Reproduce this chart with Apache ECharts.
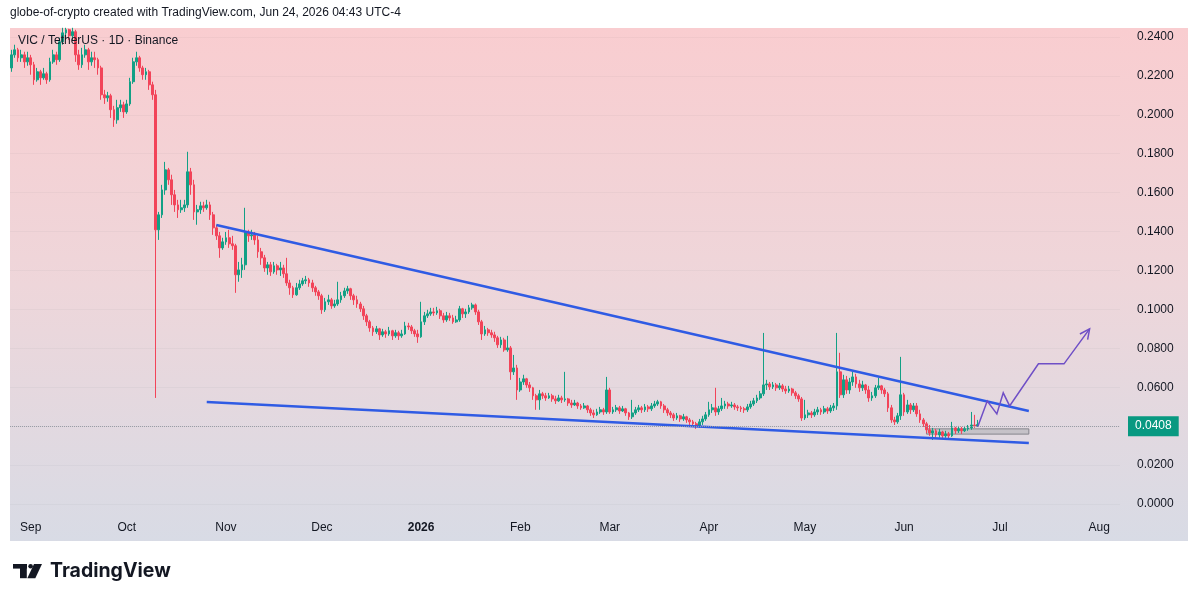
<!DOCTYPE html>
<html><head><meta charset="utf-8">
<script src="https://cdn.jsdelivr.net/npm/echarts@6/dist/echarts.min.js"></script>
<style>
html,body{margin:0;padding:0;background:#fff;width:1200px;height:602px;overflow:hidden}
#panel{position:absolute;left:10px;top:28px;width:1178px;height:513px;background:linear-gradient(180deg,#f9cdd0 0%,#eed6da 50%,#d8dbe5 100%)}
#chart{position:absolute;left:0;top:0;width:1200px;height:602px}
</style></head><body>
<div id="panel"></div><div id="chart"></div>
<script>
// ---- data (VIC / TetherUS daily, from 2025-08-26) ----
const firstOpen = 0.2241;
const closes = [
0.2308,0.2334,0.2293,0.2308,0.2272,0.2293,0.2257,0.2180,0.2221,0.2190,
0.2211,0.2180,0.2272,0.2308,0.2283,0.2375,0.2421,0.2437,0.2406,0.2427,
0.2308,0.2257,0.2308,0.2334,0.2272,0.2293,0.2283,0.2241,0.2103,0.2087,
0.2098,0.2026,0.1974,0.2036,0.2051,0.2015,0.2056,0.2170,0.2272,0.2293,
0.2241,0.2206,0.2221,0.2154,0.2103,0.1409,0.1486,0.1614,0.1717,0.1666,
0.1589,0.1537,0.1512,0.1522,0.1537,0.1707,0.1640,0.1501,0.1512,0.1532,
0.1522,0.1537,0.1486,0.1419,0.1378,0.1316,0.1347,0.1368,0.1337,0.1327,
0.1178,0.1203,0.1229,0.1393,0.1378,0.1383,0.1357,0.1296,0.1265,0.1213,
0.1229,0.1193,0.1224,0.1203,0.1213,0.1183,0.1136,0.1111,0.1075,0.1111,
0.1131,0.1147,0.1152,0.1136,0.1111,0.1090,0.1070,0.0998,0.1039,0.1049,
0.1018,0.1028,0.1049,0.1070,0.1095,0.1106,0.1070,0.1049,0.1028,0.1003,
0.0967,0.0936,0.0905,0.0885,0.0900,0.0869,0.0885,0.0874,0.0890,0.0864,
0.0880,0.0864,0.0874,0.0915,0.0910,0.0890,0.0874,0.0859,0.0936,0.0967,
0.0977,0.0987,0.0982,0.0993,0.0967,0.0946,0.0967,0.0956,0.0936,0.0946,
0.1003,0.0977,0.0987,0.1008,0.1023,0.0987,0.0936,0.0874,0.0895,0.0880,
0.0869,0.0854,0.0818,0.0843,0.0792,0.0802,0.0679,0.0699,0.0586,0.0627,
0.0643,0.0612,0.0597,0.0556,0.0535,0.0566,0.0556,0.0545,0.0556,0.0540,
0.0530,0.0545,0.0535,0.0540,0.0519,0.0509,0.0519,0.0504,0.0494,0.0504,
0.0484,0.0468,0.0458,0.0473,0.0484,0.0473,0.0586,0.0473,0.0484,0.0494,
0.0478,0.0489,0.0468,0.0448,0.0468,0.0484,0.0494,0.0484,0.0499,0.0489,
0.0504,0.0514,0.0525,0.0504,0.0484,0.0468,0.0458,0.0442,0.0453,0.0437,
0.0448,0.0432,0.0422,0.0412,0.0401,0.0422,0.0437,0.0458,0.0484,0.0494,
0.0473,0.0489,0.0504,0.0514,0.0504,0.0509,0.0499,0.0494,0.0489,0.0484,
0.0499,0.0514,0.0530,0.0545,0.0566,0.0612,0.0617,0.0602,0.0612,0.0597,
0.0607,0.0591,0.0581,0.0591,0.0571,0.0556,0.0540,0.0442,0.0458,0.0468,
0.0458,0.0473,0.0484,0.0473,0.0489,0.0478,0.0494,0.0504,0.0679,0.0561,
0.0638,0.0586,0.0627,0.0653,0.0617,0.0597,0.0612,0.0586,0.0545,0.0556,
0.0597,0.0607,0.0586,0.0566,0.0494,0.0432,0.0422,0.0453,0.0561,0.0473,
0.0509,0.0484,0.0504,0.0463,0.0432,0.0412,0.0381,0.0365,0.0376,0.0355,
0.0370,0.0350,0.0360,0.0350,0.0391,0.0376,0.0386,0.0376,0.0386,0.0391,
0.0406,0.0401,0.0408
];
const highs = [
0.2334,0.2360,0.2344,0.2334,0.2324,0.2324,0.2308,0.2272,0.2241,0.2231,
0.2241,0.2221,0.2293,0.2334,0.2324,0.2396,0.2447,0.2447,0.2442,0.2447,
0.2437,0.2334,0.2344,0.2360,0.2344,0.2324,0.2324,0.2293,0.2252,0.2128,
0.2118,0.2108,0.2046,0.2077,0.2077,0.2067,0.2077,0.2190,0.2293,0.2324,
0.2303,0.2252,0.2241,0.2231,0.2170,0.2128,0.1501,0.1640,0.1758,0.1727,
0.1692,0.1614,0.1563,0.1563,0.1563,0.1810,0.1727,0.1666,0.1537,0.1553,
0.1553,0.1563,0.1553,0.1501,0.1435,0.1398,0.1368,0.1398,0.1409,0.1378,
0.1337,0.1244,0.1265,0.1522,0.1409,0.1409,0.1398,0.1378,0.1316,0.1280,
0.1244,0.1244,0.1244,0.1234,0.1244,0.1229,0.1265,0.1152,0.1121,0.1136,
0.1152,0.1162,0.1172,0.1162,0.1152,0.1121,0.1100,0.1080,0.1059,0.1075,
0.1059,0.1049,0.1142,0.1090,0.1111,0.1121,0.1111,0.1080,0.1070,0.1039,
0.1018,0.0977,0.0946,0.0915,0.0915,0.0905,0.0900,0.0895,0.0910,0.0895,
0.0895,0.0890,0.0895,0.0936,0.0931,0.0920,0.0900,0.0895,0.1039,0.0987,
0.0998,0.1008,0.1008,0.1013,0.1003,0.0982,0.0987,0.0982,0.0972,0.0967,
0.1018,0.1008,0.1003,0.1023,0.1034,0.1030,0.0998,0.0946,0.0915,0.0905,
0.0895,0.0885,0.0864,0.0859,0.0854,0.0864,0.0812,0.0766,0.0715,0.0648,
0.0664,0.0648,0.0627,0.0602,0.0566,0.0586,0.0576,0.0571,0.0571,0.0566,
0.0556,0.0561,0.0556,0.0679,0.0545,0.0535,0.0535,0.0525,0.0514,0.0519,
0.0509,0.0494,0.0484,0.0489,0.0499,0.0494,0.0653,0.0597,0.0499,0.0509,
0.0504,0.0504,0.0494,0.0473,0.0535,0.0499,0.0509,0.0504,0.0514,0.0509,
0.0519,0.0530,0.0535,0.0530,0.0514,0.0494,0.0478,0.0468,0.0468,0.0458,
0.0463,0.0453,0.0442,0.0432,0.0422,0.0437,0.0453,0.0473,0.0525,0.0514,
0.0597,0.0504,0.0545,0.0530,0.0525,0.0525,0.0519,0.0509,0.0504,0.0499,
0.0514,0.0530,0.0545,0.0561,0.0581,0.0879,0.0638,0.0627,0.0627,0.0622,
0.0622,0.0617,0.0607,0.0607,0.0597,0.0581,0.0566,0.0550,0.0535,0.0484,
0.0478,0.0489,0.0499,0.0494,0.0504,0.0499,0.0509,0.0519,0.0879,0.0777,
0.0664,0.0658,0.0648,0.0679,0.0669,0.0638,0.0633,0.0617,0.0607,0.0576,
0.0612,0.0648,0.0612,0.0597,0.0576,0.0509,0.0448,0.0468,0.0756,0.0571,
0.0535,0.0519,0.0519,0.0519,0.0484,0.0442,0.0422,0.0406,0.0391,0.0386,
0.0386,0.0376,0.0376,0.0370,0.0422,0.0396,0.0401,0.0396,0.0401,0.0406,
0.0473,0.0458,0.0432
];
const lows = [
0.2221,0.2293,0.2272,0.2272,0.2241,0.2252,0.2206,0.2154,0.2170,0.2154,
0.2180,0.2159,0.2170,0.2262,0.2257,0.2272,0.2360,0.2385,0.2385,0.2385,
0.2272,0.2231,0.2241,0.2293,0.2231,0.2252,0.2241,0.2206,0.2077,0.2056,
0.2067,0.1984,0.1938,0.1954,0.2015,0.1984,0.2005,0.2046,0.2159,0.2252,
0.2221,0.2180,0.2180,0.2128,0.2077,0.0545,0.1357,0.1470,0.1589,0.1640,
0.1537,0.1501,0.1470,0.1496,0.1501,0.1522,0.1589,0.1460,0.1435,0.1491,
0.1501,0.1512,0.1460,0.1383,0.1357,0.1265,0.1306,0.1332,0.1316,0.1306,
0.1085,0.1142,0.1162,0.1203,0.1347,0.1357,0.1332,0.1265,0.1229,0.1193,
0.1178,0.1172,0.1183,0.1178,0.1172,0.1162,0.1121,0.1075,0.1059,0.1070,
0.1100,0.1121,0.1131,0.1116,0.1090,0.1070,0.1049,0.0977,0.0987,0.1023,
0.1003,0.1008,0.1018,0.1034,0.1059,0.1080,0.1049,0.1023,0.1008,0.0987,
0.0946,0.0915,0.0885,0.0864,0.0874,0.0843,0.0859,0.0854,0.0864,0.0843,
0.0854,0.0843,0.0854,0.0869,0.0895,0.0874,0.0859,0.0828,0.0854,0.0920,
0.0956,0.0967,0.0967,0.0972,0.0951,0.0931,0.0936,0.0941,0.0926,0.0931,
0.0936,0.0956,0.0956,0.0977,0.0998,0.0972,0.0920,0.0843,0.0864,0.0864,
0.0854,0.0833,0.0802,0.0802,0.0782,0.0782,0.0638,0.0663,0.0535,0.0576,
0.0612,0.0597,0.0576,0.0535,0.0484,0.0484,0.0540,0.0530,0.0540,0.0525,
0.0514,0.0525,0.0519,0.0525,0.0504,0.0494,0.0504,0.0489,0.0484,0.0489,
0.0468,0.0453,0.0442,0.0453,0.0463,0.0458,0.0463,0.0463,0.0463,0.0473,
0.0463,0.0473,0.0453,0.0432,0.0437,0.0458,0.0473,0.0468,0.0473,0.0473,
0.0478,0.0494,0.0504,0.0489,0.0468,0.0453,0.0442,0.0427,0.0432,0.0422,
0.0427,0.0417,0.0406,0.0396,0.0386,0.0391,0.0406,0.0427,0.0448,0.0468,
0.0453,0.0458,0.0478,0.0489,0.0489,0.0494,0.0484,0.0478,0.0473,0.0468,
0.0473,0.0489,0.0504,0.0519,0.0535,0.0555,0.0586,0.0586,0.0591,0.0581,
0.0586,0.0576,0.0566,0.0571,0.0556,0.0540,0.0525,0.0427,0.0432,0.0442,
0.0442,0.0448,0.0458,0.0458,0.0463,0.0463,0.0468,0.0478,0.0484,0.0545,
0.0545,0.0566,0.0566,0.0607,0.0597,0.0576,0.0581,0.0566,0.0525,0.0530,
0.0545,0.0586,0.0566,0.0550,0.0473,0.0417,0.0406,0.0412,0.0432,0.0453,
0.0463,0.0463,0.0473,0.0448,0.0417,0.0396,0.0365,0.0350,0.0329,0.0340,
0.0340,0.0335,0.0340,0.0335,0.0345,0.0360,0.0365,0.0360,0.0370,0.0376,
0.0381,0.0391,0.0396
];
const lastPrice = 0.0408;
const monthNames = {'01':'2026','02':'Feb','03':'Mar','04':'Apr','05':'May','06':'Jun','07':'Jul','08':'Aug','09':'Sep','10':'Oct','11':'Nov','12':'Dec'};
const yTickValues = [0,0.02,0.06,0.08,0.10,0.12,0.14,0.16,0.18,0.20,0.22,0.24];
const upperDates = ['2025-10-29','2026-07-10'];
const upperValues = [0.1434,0.0478];
const lowerDates = ['2025-10-26','2026-07-10'];
const lowerValues = [0.0524,0.0313];
const boxDates = ['2026-06-08','2026-07-10'];
const boxValues = [0.0386,0.0359];
const pathDates = ['2026-06-24','2026-06-27','2026-06-30','2026-07-02','2026-07-04','2026-07-13','2026-07-21','2026-07-29'];
const pathValues = [0.0396,0.0529,0.0463,0.0571,0.0504,0.0720,0.0720,0.0900];

// ---- categories (one per day) ----
const dayCount = 347;
const categories = [];
const d0 = Date.UTC(2025,7,26);
for (let k=0;k<dayCount;k++){ categories.push(new Date(d0+k*86400000).toISOString().slice(0,10)); }
const idx = d => categories.indexOf(d);

const candleData = closes.map((c,i)=>{
  const o = i===0 ? firstOpen : closes[i-1];
  return [o, c, Math.min(lows[i],o,c), Math.max(highs[i],o,c)];
});

const FONT = '"Liberation Sans", Arial, sans-serif';
const TXT = '#131722';
const UP = '#12a085', DOWN = '#f24459';
const BLUE = '#2f5be4', PURPLE = '#6f4fc6';

const chart = echarts.init(document.getElementById('chart'), null, {renderer:'canvas'});
chart.setOption({
  animation:false,
  backgroundColor:'transparent',
  textStyle:{fontFamily:FONT},
  grid:{left:10, right:80, top:17.5, bottom:59.1, containLabel:false},
  xAxis:{
    type:'category', data:categories, boundaryGap:true,
    axisLine:{show:false}, axisTick:{show:false}, splitLine:{show:false},
    axisLabel:{
      interval:(i,v)=>v.slice(8)==='01',
      formatter:v=>{ const m=v.slice(5,7); return m==='01' ? '{y|'+monthNames[m]+'}' : monthNames[m]; },
      color:TXT, fontSize:12, fontFamily:FONT, margin:-15, verticalAlign:'middle',
      rich:{y:{fontWeight:'bold', fontSize:12, color:TXT, fontFamily:FONT}}
    }
  },
  yAxis:{
    type:'value', position:'right', min:-0.02, max:0.25, interval:0.02, scale:false,
    axisLine:{show:false}, axisTick:{show:false},
    splitLine:{show:true, showMinLine:false, showMaxLine:false, lineStyle:{color:'rgba(42,46,57,0.035)', width:1}},
    axisLabel:{
      showMinLabel:false, showMaxLabel:false, margin:17, color:TXT, fontSize:12, fontFamily:FONT,
      formatter:v=> yTickValues.some(t=>Math.abs(t-v)<1e-9) ? Math.abs(v).toFixed(4) : ''
    }
  },
  series:[
    {
      type:'candlestick', data:candleData, barWidth:'72%', z:2,
      itemStyle:{color:UP, color0:DOWN, borderColor:UP, borderColor0:DOWN, borderWidth:1},
      markLine:{
        silent:true, symbol:['none','none'], animation:false,
        lineStyle:{type:'dotted', color:'#9a9da6', width:1},
        label:{show:true, position:'end', distance:8, formatter:lastPrice.toFixed(4),
          color:'#fff', backgroundColor:'#089981', padding:[4,7,4,7], fontSize:12, fontFamily:FONT},
        data:[{yAxis:lastPrice}]
      }
    },
    {
      type:'line', data:upperDates.map((d,k)=>[idx(d),upperValues[k]]), symbol:'none', z:3, silent:true,
      lineStyle:{color:BLUE, width:2.5}
    },
    {
      type:'line', data:lowerDates.map((d,k)=>[idx(d),lowerValues[k]]), symbol:'none', z:3, silent:true,
      lineStyle:{color:BLUE, width:2.5},
      markArea:{silent:true,
        itemStyle:{color:'rgba(175,175,180,0.55)', borderColor:'#85858c', borderWidth:1},
        data:[[{xAxis:boxDates[0], yAxis:boxValues[0]},{xAxis:boxDates[1], yAxis:boxValues[1]}]]
      }
    },
    {
      type:'custom', z:4, silent:true, clip:false,
      data:[[idx(pathDates[0]), pathValues[0]]], encode:{x:0,y:1},
      renderItem:(params, api)=>{
        const pts = pathDates.map((d,k)=>api.coord([idx(d), pathValues[k]]));
        const n = pts.length, a = pts[n-2], b = pts[n-1];
        const ang = Math.atan2(b[1]-a[1], b[0]-a[0]);
        const L = 11, w = 0.45;
        const p1 = [b[0]-L*Math.cos(ang-w), b[1]-L*Math.sin(ang-w)];
        const p2 = [b[0]-L*Math.cos(ang+w), b[1]-L*Math.sin(ang+w)];
        const style = {stroke:PURPLE, lineWidth:1.5, fill:null};
        return {type:'group', children:[
          {type:'polyline', shape:{points:pts}, style:style},
          {type:'polyline', shape:{points:[p1,b,p2]}, style:style}
        ]};
      }
    }
  ],
  graphic:[
    {type:'text', left:10, top:7, style:{text:'globe-of-crypto created with TradingView.com, Jun 24, 2026 04:43 UTC-4', fontSize:12, fontFamily:FONT, fill:TXT}},
    {type:'text', left:18, top:35, z:10, style:{text:'VIC / TetherUS · 1D · Binance', fontSize:12, fontFamily:FONT, fill:TXT}},
    {type:'rect', shape:{x:13, y:564, width:14, height:4.6}, style:{fill:TXT}},
    {type:'rect', shape:{x:20, y:564, width:6.8, height:14.2}, style:{fill:TXT}},
    {type:'circle', shape:{cx:30.6, cy:566.3, r:2.3}, style:{fill:TXT}},
    {type:'polygon', shape:{points:[[34,564],[42,564],[35.3,578.2],[27.3,578.2]]}, style:{fill:TXT}},
    {type:'text', left:50, top:561, style:{text:'TradingView', fontSize:19.5, fontWeight:'bold', fontFamily:'Inter, "Noto Sans", sans-serif', fill:TXT}}
  ]
});
</script></body></html>
